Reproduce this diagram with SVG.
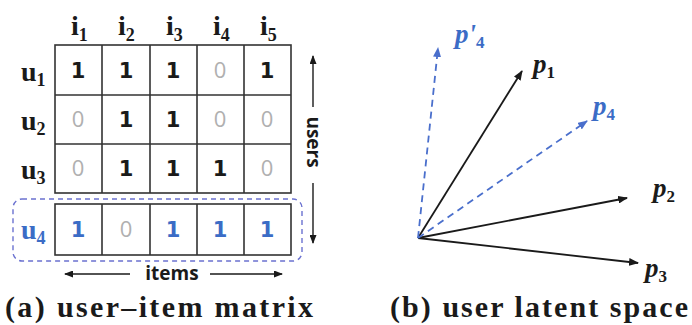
<svg xmlns="http://www.w3.org/2000/svg" width="692" height="325" viewBox="0 0 692 325">
<style>
.bg{fill:#ffffff}
.grid{fill:none;stroke:#333;stroke-width:1.6}
.num{font-family:"DejaVu Sans",sans-serif;font-weight:bold;font-size:21px;text-anchor:middle}
.one{fill:#1a1a1a}
.zero{fill:#b0b0b0;font-family:"Open Sans",sans-serif;font-weight:normal;font-size:22px}
.blue{fill:#3b6cc6}
.lab{font-family:"Liberation Serif",serif;font-weight:bold;font-size:28px;fill:#1a1a1a}
.sub{font-size:18px}
.vsub{font-size:17px;font-style:normal}
.ax{font-family:"Open Sans",sans-serif;font-weight:bold;font-size:19px;fill:#1a1a1a;text-anchor:middle}
.cap{font-family:"Liberation Serif",serif;font-weight:bold;font-size:30px;fill:#1a1a1a}
.vec{font-family:"Liberation Serif",serif;font-weight:bold;font-style:italic;font-size:27px}
.line{stroke:#1a1a1a;stroke-width:1.8;fill:none}
.dline{stroke:#4a6fcc;stroke-width:1.8;fill:none;stroke-dasharray:7 5}
.thin{stroke:#1a1a1a;stroke-width:1.4;fill:none}
</style>
<defs>
<marker id="ah" markerWidth="10" markerHeight="8" refX="9" refY="4" orient="auto" markerUnits="userSpaceOnUse">
<path d="M0,0 L10,4 L0,8 Z" fill="#1a1a1a"/>
</marker>
<marker id="ahb" markerWidth="10" markerHeight="8" refX="9" refY="4" orient="auto" markerUnits="userSpaceOnUse">
<path d="M0,0 L10,4 L0,8 Z" fill="#4a6fcc"/>
</marker>
<marker id="ahs" markerWidth="9" markerHeight="7" refX="8" refY="3.5" orient="auto" markerUnits="userSpaceOnUse">
<path d="M0,0 L9,3.5 L0,7 Z" fill="#1a1a1a"/>
</marker>
</defs>
<rect class="bg" x="0" y="0" width="692" height="325"/>

<g id="matrix">
<rect class="grid" x="55" y="45" width="236" height="148"/>
<path class="grid" d="M102,45V193M150,45V193M197,45V193M244,45V193M55,95H291M55,144H291"/>
<rect class="grid" x="55" y="204" width="236" height="51"/>
<path class="grid" d="M102,204V255M150,204V255M197,204V255M244,204V255"/>
</g>

<g id="col-labels" class="lab">
<text x="71" y="35">i<tspan class="sub" dy="6">1</tspan></text>
<text x="118" y="35">i<tspan class="sub" dy="6">2</tspan></text>
<text x="166" y="35">i<tspan class="sub" dy="6">3</tspan></text>
<text x="213" y="35">i<tspan class="sub" dy="6">4</tspan></text>
<text x="260" y="35">i<tspan class="sub" dy="6">5</tspan></text>
</g>

<g id="row-labels" class="lab">
<text x="21" y="81">u<tspan class="sub" dy="5">1</tspan></text>
<text x="21" y="130">u<tspan class="sub" dy="5">2</tspan></text>
<text x="21" y="179">u<tspan class="sub" dy="5">3</tspan></text>
<text x="21" y="239" fill="#3b6cc6">u<tspan class="sub" dy="5">4</tspan></text>
</g>

<g id="cells" class="num">
<text class="one" x="78" y="78">1</text>
<text class="one" x="126" y="78">1</text>
<text class="one" x="173" y="78">1</text>
<text class="zero" x="220" y="78">0</text>
<text class="one" x="267" y="78">1</text>

<text class="zero" x="78" y="127">0</text>
<text class="one" x="126" y="127">1</text>
<text class="one" x="173" y="127">1</text>
<text class="zero" x="220" y="127">0</text>
<text class="zero" x="267" y="127">0</text>

<text class="zero" x="78" y="176">0</text>
<text class="one" x="126" y="176">1</text>
<text class="one" x="173" y="176">1</text>
<text class="one" x="220" y="176">1</text>
<text class="zero" x="267" y="176">0</text>

<text class="blue" x="78" y="237">1</text>
<text class="zero" x="126" y="237">0</text>
<text class="blue" x="173" y="237">1</text>
<text class="blue" x="220" y="237">1</text>
<text class="blue" x="267" y="237">1</text>
</g>

<g id="highlight">
<rect x="13" y="199" width="289" height="62" rx="9" ry="9" fill="none" stroke="#6b72d0" stroke-width="1.4" stroke-dasharray="5 4"/>
</g>

<g id="users-axis">
<line class="thin" x1="313" y1="107" x2="313" y2="56" marker-end="url(#ahs)"/>
<line class="thin" x1="313" y1="183" x2="313" y2="243" marker-end="url(#ahs)"/>
<text class="ax" transform="translate(313,142) rotate(90)" dy="6">users</text>
</g>

<g id="items-axis">
<line class="thin" x1="130" y1="274" x2="65" y2="274" marker-end="url(#ahs)"/>
<line class="thin" x1="210" y1="274" x2="282" y2="274" marker-end="url(#ahs)"/>
<text class="ax" x="172" y="280">items</text>
</g>

<g id="connectors">
<line class="line" x1="418" y1="238" x2="522" y2="71" marker-end="url(#ah)"/>
<line class="line" x1="418" y1="238" x2="627" y2="198" marker-end="url(#ah)"/>
<line class="line" x1="418" y1="238" x2="638" y2="263" marker-end="url(#ah)"/>
<line class="dline" x1="418" y1="238" x2="438" y2="48" marker-end="url(#ahb)"/>
<line class="dline" x1="418" y1="238" x2="587" y2="121" marker-end="url(#ahb)"/>
</g>

<g id="vec-labels" class="vec">
<text x="455" y="43" fill="#3b6cc6">p'<tspan class="vsub" dy="5">4</tspan></text>
<text x="533" y="73" fill="#1a1a1a">p<tspan class="vsub" dy="5">1</tspan></text>
<text x="593" y="115" fill="#3b6cc6">p<tspan class="vsub" dy="5">4</tspan></text>
<text x="653" y="197" fill="#1a1a1a">p<tspan class="vsub" dy="5">2</tspan></text>
<text x="645" y="277" fill="#1a1a1a">p<tspan class="vsub" dy="5">3</tspan></text>
</g>

<g id="captions" class="cap">
<text x="5" y="317" textLength="308" lengthAdjust="spacing">(a) user–item matrix</text>
<text x="390" y="317" textLength="298" lengthAdjust="spacing">(b) user latent space</text>
</g>
</svg>
